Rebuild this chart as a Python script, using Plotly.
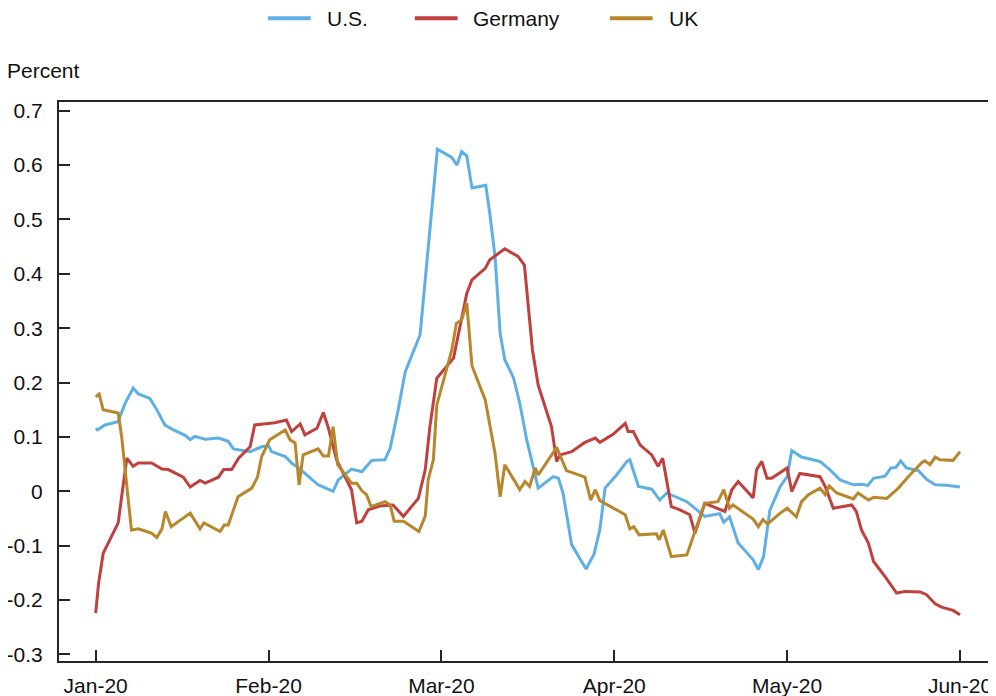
import plotly.graph_objects as go

# days since 1 Jan 2020 (axis runs one tick per 30 days) and percent values
us_day = [0, 0.3, 1.6, 3.9, 4.2, 5.1, 6.5, 7.4, 9.4, 10.6, 12, 13.5, 15.5, 16.4, 17.2, 19, 21.3, 23,
          23.9, 26.8, 28.8, 30, 30.5, 32.9, 34, 35.2, 36.3, 38.6, 41.2, 42.1, 44.4, 46.2, 47.9, 50.2,
          51.1, 52.5, 53.7, 56.3, 59.3, 61.8, 62.7, 63.5, 64.4, 65.3, 67.7, 68.4, 69.3, 70.2, 71,
          72.5, 73.6, 74.8, 76.8, 79.4, 80.3, 81.1, 82.6, 85.1, 86.5, 87.5, 88.4, 90.4, 92.2, 92.7,
          94.2, 96.5, 97.9, 99.1, 102.6, 105.7, 108.3, 109, 110, 111.5, 114.1, 115, 115.9, 117,
          118.8, 120, 120.8, 122.5, 125.7, 127.4, 129.2, 131.5, 132.9, 134, 135, 137, 138, 138.9,
          139.7, 140.7, 142.8, 144.2, 145.7, 147.7, 150]
us_val = [0.116, 0.113, 0.122, 0.128, 0.137, 0.162, 0.19, 0.179, 0.171, 0.15, 0.122, 0.113, 0.103,
          0.095, 0.101, 0.096, 0.098, 0.092, 0.078, 0.073, 0.082, 0.084, 0.073, 0.064, 0.052, 0.043,
          0.033, 0.012, 0.0, 0.021, 0.041, 0.036, 0.057, 0.058, 0.079, 0.15, 0.219, 0.288, 0.629,
          0.614, 0.60, 0.625, 0.617, 0.558, 0.563, 0.511, 0.432, 0.29, 0.242, 0.209, 0.162, 0.095,
          0.006, 0.027, 0.024, -0.003, -0.098, -0.143, -0.115, -0.07, 0.006, 0.030, 0.055, 0.058,
          0.009, 0.004, -0.016, -0.003, -0.019, -0.046, -0.041, -0.057, -0.047, -0.095, -0.126,
          -0.144, -0.12, -0.035, 0.009, 0.027, 0.075, 0.063, 0.055, 0.04, 0.021, 0.012, 0.013,
          0.011, 0.024, 0.028, 0.043, 0.044, 0.056, 0.043, 0.038, 0.022, 0.012, 0.011, 0.008]

de_day = [0, 0.5, 1.3, 3.9, 4.5, 5.4, 6.5, 7.4, 9.7, 11.5, 12.6, 15.2, 16.4, 18.1, 19, 21.3, 22.2,
          23.6, 24.8, 26.8, 27.6, 29.4, 31.1, 33.1, 34, 35.5, 36.3, 38.4, 39.5, 40.4, 41.8, 44.4,
          45.3, 46.2, 47.3, 49.3, 51.6, 53.4, 56, 57.2, 58, 59.2, 62.1, 64.4, 65.3, 67.6, 68.4, 71,
          73.3, 74.4, 75.8, 76.8, 79.1, 80, 80.6, 82.6, 84.9, 86.7, 87.5, 89.8, 91.9, 92.4, 93.3,
          94.5, 96.5, 97.6, 98.4, 99.9, 101.4, 103.1, 104, 105.7, 107.2, 109.2, 110.4, 111.5, 114.1,
          114.7, 115.6, 116.5, 117.3, 120, 120.8, 122.2, 125.7, 126.6, 128, 131.2, 132, 132.9,
          134.1, 135, 137, 139, 140.5, 143.1, 144.2, 145.7, 146.8, 148.8, 150]
de_val = [-0.224, -0.169, -0.114, -0.058, -0.01, 0.061, 0.046, 0.052, 0.052, 0.041, 0.04, 0.026,
          0.008, 0.02, 0.015, 0.026, 0.04, 0.04, 0.061, 0.082, 0.122, 0.124, 0.126, 0.131, 0.11,
          0.124, 0.104, 0.116, 0.145, 0.116, 0.058, 0.003, -0.058, -0.055, -0.034, -0.027, -0.025,
          -0.046, -0.013, 0.04, 0.119, 0.208, 0.245, 0.364, 0.389, 0.41, 0.426, 0.446, 0.432, 0.416,
          0.26, 0.195, 0.119, 0.055, 0.067, 0.073, 0.09, 0.098, 0.09, 0.105, 0.125, 0.11, 0.11,
          0.085, 0.067, 0.046, 0.061, -0.028, -0.034, -0.043, -0.077, -0.022, -0.028, -0.037, 0.003,
          0.018, -0.012, 0.04, 0.055, 0.024, 0.024, 0.043, 0.0, 0.033, 0.027, 0.009, -0.031, -0.025,
          -0.037, -0.071, -0.095, -0.129, -0.157, -0.187, -0.184, -0.185, -0.19, -0.207, -0.213,
          -0.219, -0.227]

uk_day = [0, 0.6, 1.3, 3.9, 4.5, 5.4, 6.2, 7.4, 9.7, 10.6, 11.5, 12.1, 13.1, 16.4, 18.1, 18.8, 21.6,
          22.3, 23, 24.7, 27.1, 28.1, 28.8, 30.2, 32.9, 33.7, 34.6, 35.3, 36, 38.6, 39.5, 40.4, 41.2,
          42, 44.4, 45.3, 46.2, 47, 47.8, 50.2, 51.1, 51.8, 53.4, 56.1, 57.2, 57.7, 58.6, 59.2, 60.6,
          61.8, 62.6, 63.5, 64.4, 65.3, 67.6, 69.3, 70.2, 71, 73.6, 74.5, 75.3, 76.3, 76.8, 80,
          81.7, 84.9, 85.9, 86.7, 87.5, 91.9, 92.7, 93.4, 94.3, 97.3, 97.8, 98.5, 99.9, 102.6, 104,
          105.7, 108, 109, 110, 110.6, 114.1, 115, 115.8, 116.6, 118.8, 120, 121.6, 122.5, 123.7,
          125.7, 126.6, 127.3, 128.6, 131.5, 132.3, 134.1, 135, 137.3, 139.3, 141.3, 143.4, 143.9,
          144.8, 145.7, 146.5, 148.8, 150]
uk_val = [0.174, 0.179, 0.15, 0.144, 0.101, 0.015, -0.071, -0.069, -0.077, -0.085, -0.069, -0.037,
          -0.065, -0.04, -0.069, -0.058, -0.074, -0.062, -0.062, -0.01, 0.006, 0.027, 0.064, 0.095,
          0.113, 0.095, 0.089, 0.012, 0.067, 0.078, 0.065, 0.065, 0.119, 0.049, 0.015, 0.015, 0.001,
          -0.006, -0.028, -0.019, -0.025, -0.055, -0.055, -0.074, -0.045, 0.021, 0.058, 0.159,
          0.211, 0.26, 0.309, 0.315, 0.346, 0.231, 0.168, 0.07, -0.01, 0.049, 0.003, 0.018, 0.009,
          0.043, 0.03, 0.081, 0.038, 0.026, -0.016, 0.003, -0.017, -0.043, -0.069, -0.065, -0.08,
          -0.078, -0.089, -0.071, -0.12, -0.117, -0.074, -0.022, -0.019, 0.003, -0.031, -0.025,
          -0.051, -0.065, -0.052, -0.06, -0.04, -0.031, -0.047, -0.019, -0.006, 0.006, -0.006, 0.01,
          -0.003, -0.014, -0.003, -0.016, -0.011, -0.013, 0.006, 0.03, 0.053, 0.056, 0.049, 0.063,
          0.058, 0.057, 0.073]

month_ticks = [0, 30, 60, 90, 120, 150]
month_labels = ["Jan-20", "Feb-20", "Mar-20", "Apr-20", "May-20", "Jun-20"]
pct_ticks = [-0.3, -0.2, -0.1, 0, 0.1, 0.2, 0.3, 0.4, 0.5, 0.6, 0.7]
pct_labels = ["-0.3", "-0.2", "-0.1", "0", "0.1", "0.2", "0.3", "0.4", "0.5", "0.6", "0.7"]

series = [
    ("U.S.", us_day, us_val, "#5eb0e4"),
    ("Germany", de_day, de_val, "#c0403e"),
    ("UK", uk_day, uk_val, "#b8862b"),
]
# legend key start positions (paper fraction) across the top
legend_x = [0.225, 0.383, 0.593]
LEGEND_Y = 1.15

FONT = "Arial, Liberation Sans, sans-serif"
FS = 21

fig = go.Figure()
for (name, d, v, col), lx in zip(series, legend_x):
    fig.add_trace(go.Scatter(x=d, y=v, mode="lines", name=name, showlegend=False,
                             line=dict(color=col, width=3)))
    # hand-drawn legend key so the swatch length and gaps match the original
    fig.add_shape(type="line", xref="paper", yref="paper", x0=lx, x1=lx + 0.046,
                  y0=LEGEND_Y, y1=LEGEND_Y, line=dict(color=col, width=4))
    fig.add_annotation(text=name, xref="paper", yref="paper", x=lx + 0.061, y=LEGEND_Y,
                       xanchor="left", yanchor="middle", showarrow=False,
                       font=dict(family=FONT, size=FS, color="#111"))

axis_style = dict(showline=True, linecolor="#262626", linewidth=2, mirror=True,
                  ticks="inside", ticklen=11, tickwidth=2, tickcolor="#262626",
                  showgrid=False, zeroline=False, automargin=False,
                  tickfont=dict(family=FONT, size=FS, color="#111"))

fig.update_xaxes(range=[-6.37, 154.86], tickmode="array", tickvals=month_ticks,
                 ticktext=month_labels, ticklabelstandoff=5, **axis_style)
fig.update_yaxes(range=[-0.312, 0.716], tickmode="array", tickvals=pct_ticks,
                 ticktext=pct_labels, ticklabelstandoff=10, **axis_style)

fig.add_annotation(text="Percent", xref="paper", yref="paper", x=-0.058, y=1.057,
                   xanchor="left", yanchor="middle", showarrow=False,
                   font=dict(family=FONT, size=FS, color="#111"))

# the page body adds an 8px offset, so margins are shifted to land the plot where the original has it
fig.update_layout(
    width=996, height=696,
    margin=dict(l=51, r=16, t=94, b=43, autoexpand=False),
    plot_bgcolor="white", paper_bgcolor="white",
    font=dict(family=FONT, size=FS, color="#111"),
    showlegend=False,
)

fig.write_html("out.html")
